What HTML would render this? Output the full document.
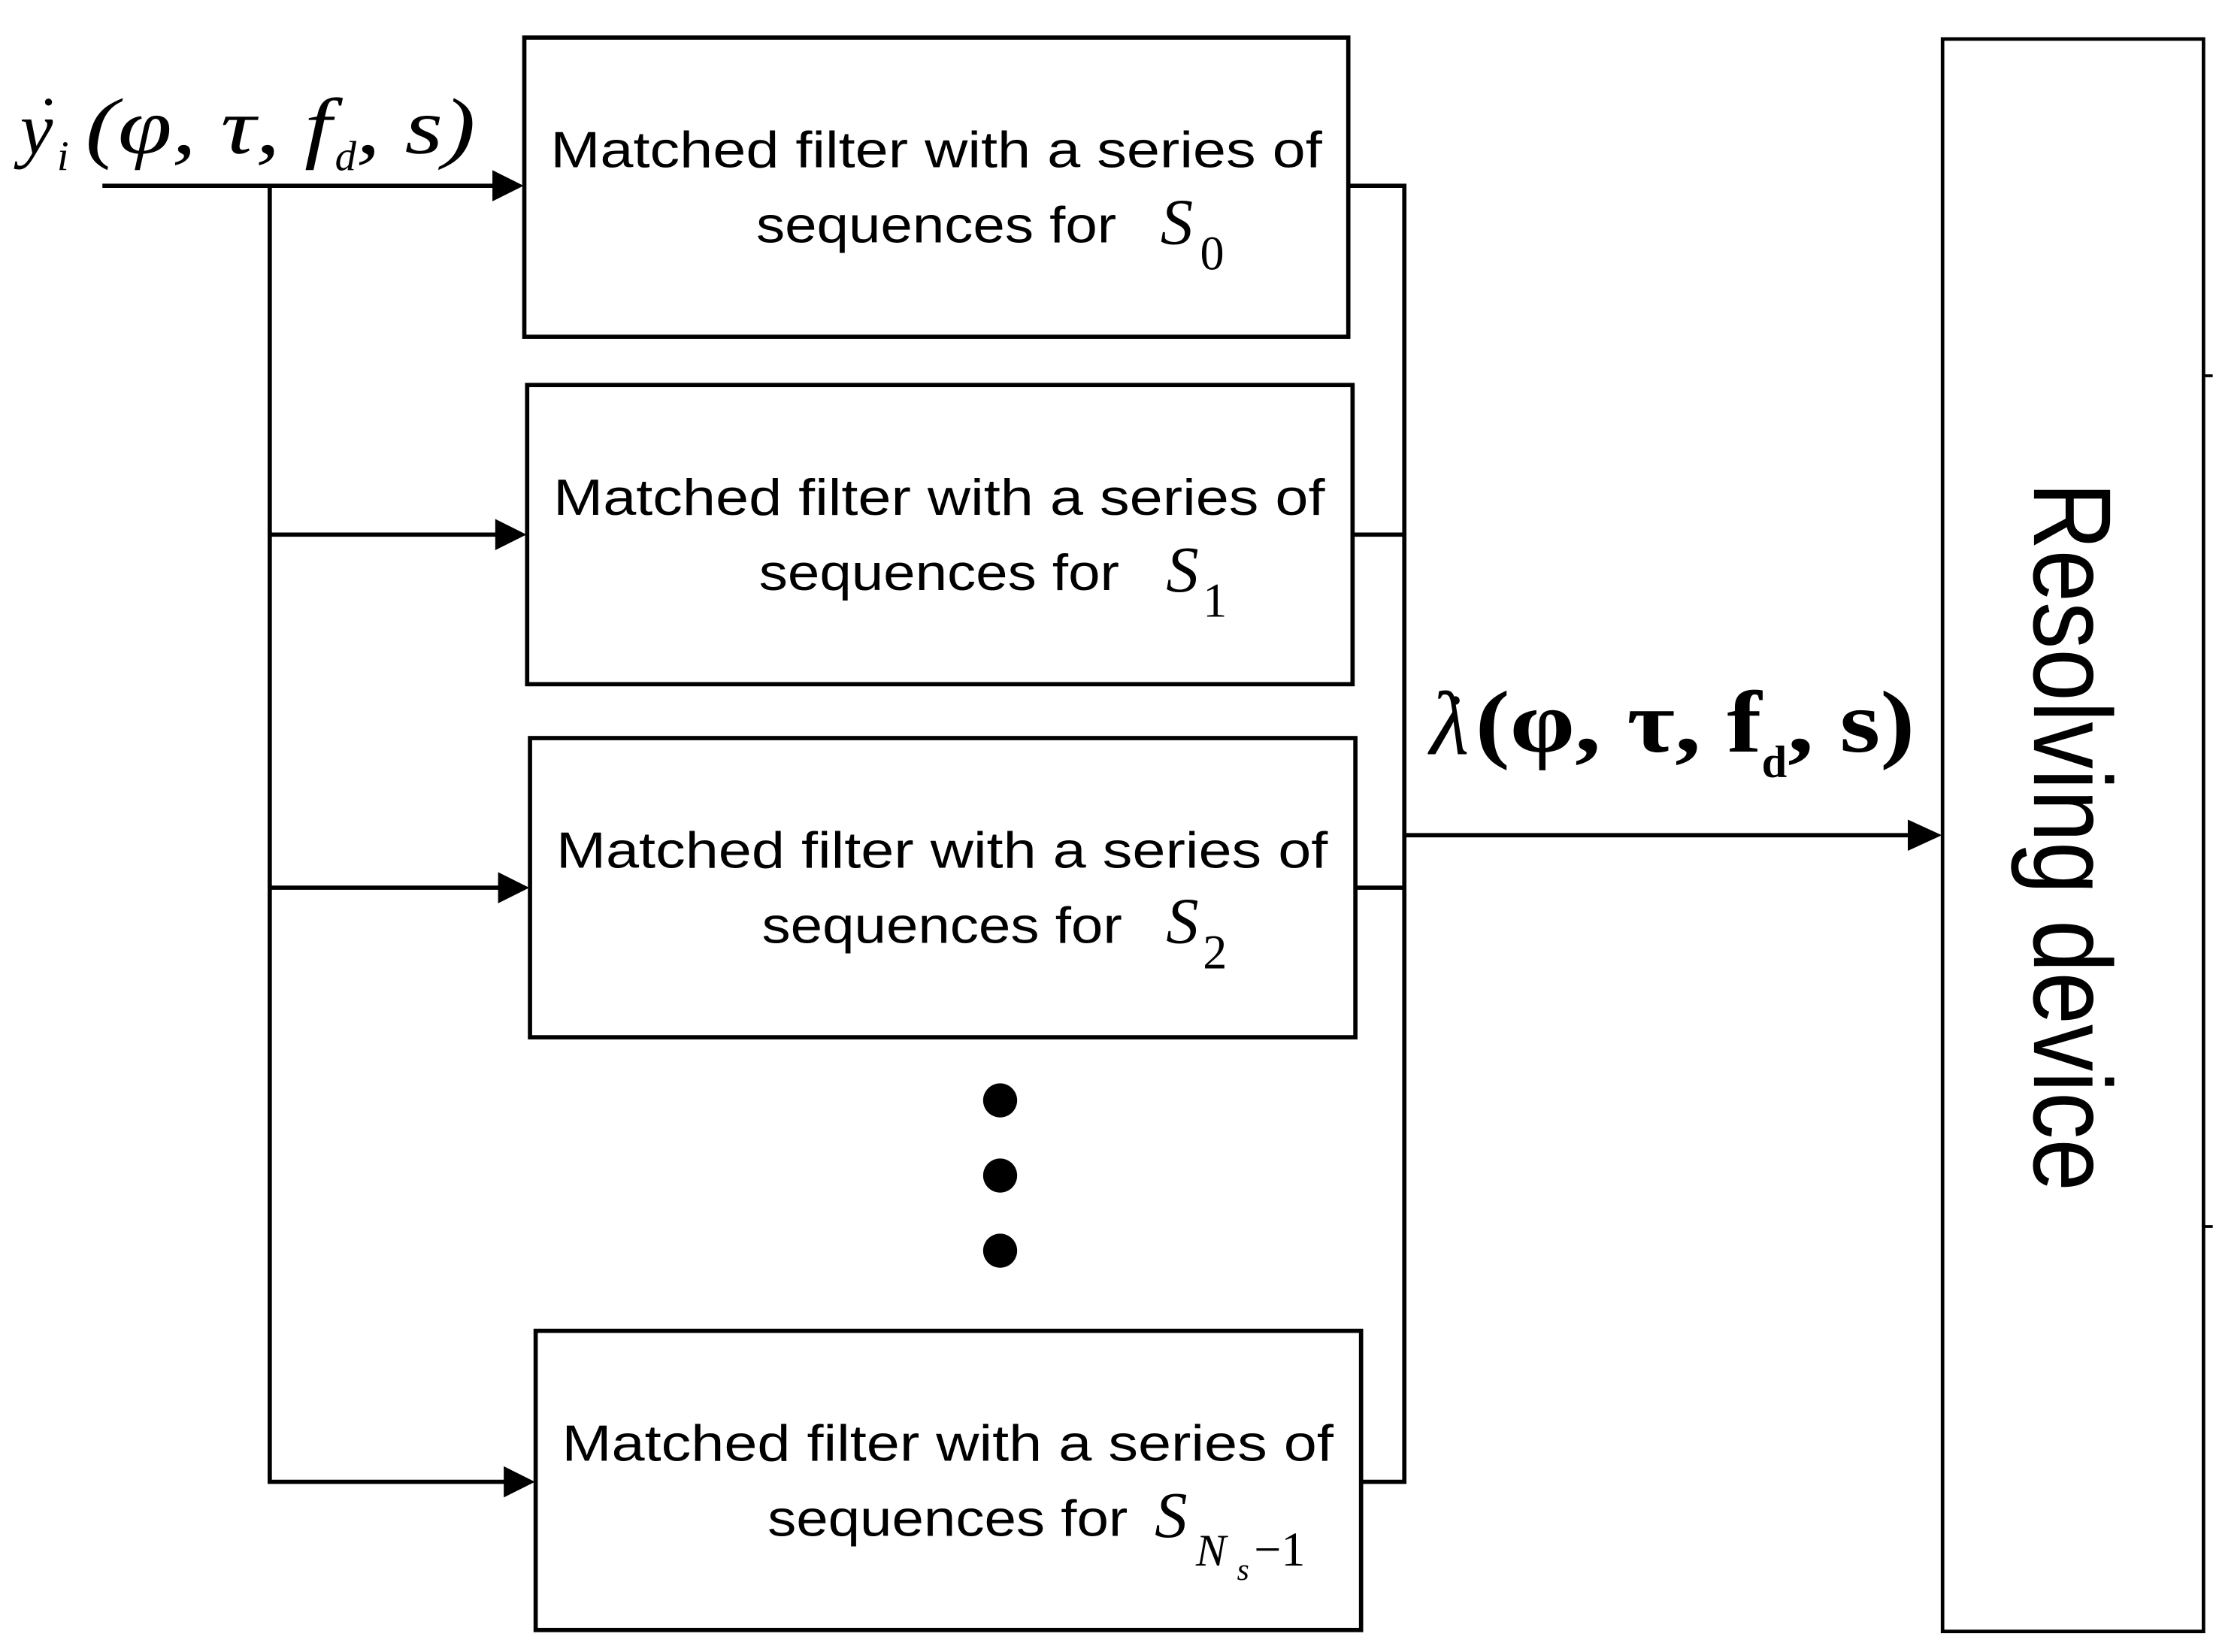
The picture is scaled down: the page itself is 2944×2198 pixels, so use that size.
<!DOCTYPE html>
<html><head><meta charset="utf-8"><style>
html,body{margin:0;padding:0;background:#fff;}
svg{display:block;}
</style></head><body>
<svg width="2944" height="2198" viewBox="0 0 1560 1165" xmlns="http://www.w3.org/2000/svg">
<g fill="none" stroke="#000" stroke-width="3">
<rect x="369.5" y="26.5" width="581" height="211"/>
<rect x="371.5" y="271.5" width="582" height="211"/>
<rect x="373.5" y="520.5" width="582" height="211"/>
<rect x="377.5" y="938.5" width="582" height="211"/>
<rect x="1369.5" y="27.5" width="184" height="1123" stroke-width="2.5"/>
<line x1="72" y1="131" x2="352" y2="131"/>
<polyline points="190,131 190,1045 360,1045"/>
<line x1="190" y1="377" x2="354" y2="377"/>
<line x1="190" y1="626" x2="356" y2="626"/>
<polyline points="950,131 990,131 990,1045 959,1045"/>
<line x1="953" y1="377" x2="990" y2="377"/>
<line x1="955" y1="626" x2="990" y2="626"/>
<line x1="990" y1="589" x2="1350" y2="589"/>
<line x1="1553" y1="265" x2="1560" y2="265" stroke-width="2"/>
<line x1="1553" y1="865" x2="1560" y2="865" stroke-width="2"/>
</g>
<g fill="#000">
<polygon points="369,131 347,120 347,142"/>
<polygon points="371,377 349,366 349,388"/>
<polygon points="373,626 351,615 351,637"/>
<polygon points="377,1045 355,1034 355,1056"/>
<polygon points="1369,589 1345,578 1345,600"/>
<circle cx="705" cy="776" r="12"/>
<circle cx="705" cy="829" r="12"/>
<circle cx="705" cy="882" r="12"/>
</g>
<g font-family="Liberation Sans, sans-serif" font-size="36" fill="#000">
<text x="388" y="118" textLength="544" lengthAdjust="spacingAndGlyphs">Matched filter with a series of</text>
<text x="533" y="171" textLength="254" lengthAdjust="spacingAndGlyphs">sequences for</text>
<text x="390" y="363" textLength="544" lengthAdjust="spacingAndGlyphs">Matched filter with a series of</text>
<text x="535" y="416" textLength="254" lengthAdjust="spacingAndGlyphs">sequences for</text>
<text x="392" y="612" textLength="544" lengthAdjust="spacingAndGlyphs">Matched filter with a series of</text>
<text x="537" y="665" textLength="254" lengthAdjust="spacingAndGlyphs">sequences for</text>
<text x="396" y="1030" textLength="544" lengthAdjust="spacingAndGlyphs">Matched filter with a series of</text>
<text x="541" y="1083" textLength="254" lengthAdjust="spacingAndGlyphs">sequences for</text>
<text transform="translate(1434,340) rotate(90)" font-size="78" textLength="500" lengthAdjust="spacingAndGlyphs">Resolving device</text>
</g>
<g font-family="Liberation Serif, serif" fill="#000">
<text x="818" y="172" font-size="46" font-style="italic">S</text><text x="846" y="190" font-size="34">0</text>
<text x="822" y="417" font-size="46" font-style="italic">S</text><text x="848" y="435" font-size="34">1</text>
<text x="822" y="665" font-size="46" font-style="italic">S</text><text x="848" y="683" font-size="34">2</text>
<text x="814" y="1084" font-size="46" font-style="italic">S</text><text x="843" y="1104" font-size="32" font-style="italic">N</text><text x="872" y="1114" font-size="22" font-style="italic">s</text><text x="884" y="1104" font-size="34">−1</text>
<text x="14" y="108" font-size="52" font-style="italic">y</text><circle cx="34" cy="72" r="2.5"/><text x="40" y="120" font-size="30" font-style="italic">i</text>
<text x="60" y="108" font-size="56" font-style="italic" textLength="275" lengthAdjust="spacingAndGlyphs">(φ, τ,  f   , s)</text>
<text x="236" y="120" font-size="30" font-style="italic">d</text>
<text x="1008" y="532" font-size="64" font-style="italic">λ</text><circle cx="1026" cy="494" r="3"/>
<text x="1040" y="530" font-size="62" font-weight="bold" textLength="310" lengthAdjust="spacingAndGlyphs">(φ, τ, f    , s)</text>
<text x="1242" y="548" font-size="32" font-weight="bold">d</text>
</g>
</svg>
</body></html>
